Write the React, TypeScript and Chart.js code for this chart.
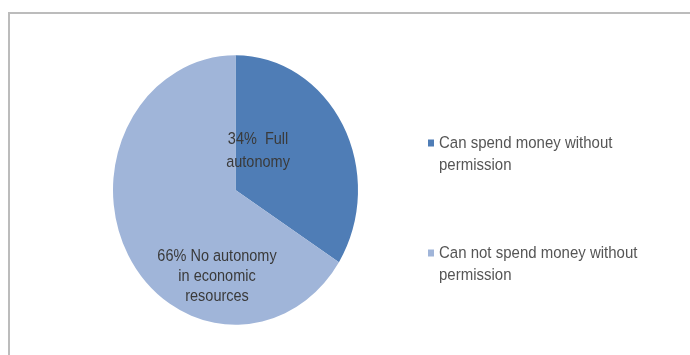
import React, { useEffect, useRef } from "react";
import { Chart, registerables } from "chart.js";

Chart.register(...registerables);

const categories = [
  "Can spend money without permission",
  "Can not spend money without permission",
];
const legendLines = [
  ["Can spend money without", "permission"],
  ["Can not spend money without", "permission"],
];
const values = [34, 66];
const sliceLabels = [
  ["34%  Full", "autonomy"],
  ["66% No autonomy", "in economic", "resources"],
];
const colors = ["#4f7db6", "#a0b5d9"];

const FONT = "'Liberation Sans', Arial, sans-serif";
const STRETCH = 1.1;

function tallText(ctx: any, t: string, x: number, y: number) {
  ctx.save();
  ctx.translate(x, y);
  ctx.scale(1, STRETCH);
  ctx.fillText(t, 0, 0);
  ctx.restore();
}

const framePlugin = {
  id: "frame",
  beforeDraw(chart: any) {
    const ctx = chart.ctx;
    ctx.save();
    ctx.fillStyle = "#ffffff";
    ctx.fillRect(0, 0, chart.width, chart.height);
    ctx.strokeStyle = "#bcbcbc";
    ctx.lineWidth = 2;
    ctx.beginPath();
    ctx.moveTo(9, chart.height);
    ctx.lineTo(9, 13);
    ctx.lineTo(chart.width, 13);
    ctx.stroke();
    ctx.restore();
  },
};

const stretchPlugin = {
  id: "stretch",
  beforeDatasetsDraw(chart: any) {
    const arc = chart.getDatasetMeta(0).data[0];
    const ctx = chart.ctx;
    ctx.save();
    ctx.translate(arc.x, arc.y);
    ctx.scale(1, STRETCH);
    ctx.translate(-arc.x, -arc.y);
  },
  afterDatasetsDraw(chart: any) {
    chart.ctx.restore();
  },
};

const labelPlugin = {
  id: "sliceLabels",
  afterDraw(chart: any) {
    const ctx = chart.ctx;
    const arcs = chart.getDatasetMeta(0).data;
    const anchors = [
      { fx: 0.184, fy: -0.314, lh: 23 },
      { fx: -0.151, fy: 0.71, lh: 20 },
    ];
    ctx.save();
    ctx.font = `14.5px ${FONT}`;
    ctx.fillStyle = "#3a3a3a";
    ctx.textAlign = "center";
    ctx.textBaseline = "middle";
    arcs.forEach((arc: any, i: number) => {
      const r = arc.outerRadius;
      const a = anchors[i];
      const lines = sliceLabels[i];
      const cx = arc.x + a.fx * r;
      const cy = arc.y + a.fy * r;
      const start = cy - ((lines.length - 1) * a.lh) / 2;
      lines.forEach((t, k) => tallText(ctx, t, cx, start + k * a.lh));
    });
    ctx.restore();
  },
};

const legendPlugin = {
  id: "sideLegend",
  afterDraw(chart: any) {
    const ctx = chart.ctx;
    const area = chart.chartArea;
    const cy = (area.top + area.bottom) / 2;
    const x0 = area.right + 70;
    const itemY = [cy - 47, cy + 63];
    const colorsUsed = chart.data.datasets[0].backgroundColor;
    ctx.save();
    ctx.font = `15px ${FONT}`;
    ctx.textAlign = "left";
    ctx.textBaseline = "middle";
    legendLines.forEach((lines, i) => {
      ctx.fillStyle = colorsUsed[i];
      ctx.fillRect(x0, itemY[i] - 3.5, 6, 7);
      ctx.fillStyle = "#555555";
      lines.forEach((t, k) => tallText(ctx, t, x0 + 11, itemY[i] + k * 22));
    });
    ctx.restore();
  },
};

export default function App() {
  const ref = useRef<HTMLCanvasElement | null>(null);

  useEffect(() => {
    if (!ref.current) return;
    const chart = new Chart(ref.current, {
      type: "pie",
      data: {
        labels: categories,
        datasets: [
          {
            data: values,
            backgroundColor: colors,
            borderWidth: 0,
          },
        ],
      },
      options: {
        animation: false,
        responsive: false,
        maintainAspectRatio: false,
        rotation: 0,
        layout: {
          padding: { left: 113, right: 332, top: 67.5, bottom: 42.5 },
        },
        plugins: {
          legend: { display: false },
          tooltip: { enabled: false },
        },
      },
      plugins: [framePlugin, stretchPlugin, labelPlugin, legendPlugin],
    });
    return () => chart.destroy();
  }, []);

  return (
    <div style={{ position: "fixed", left: 0, top: 0, width: 690, height: 355, overflow: "hidden", background: "#fff" }}>
      <canvas ref={ref} width={690} height={355} style={{ width: 690, height: 355, display: "block" }} />
    </div>
  );
}
